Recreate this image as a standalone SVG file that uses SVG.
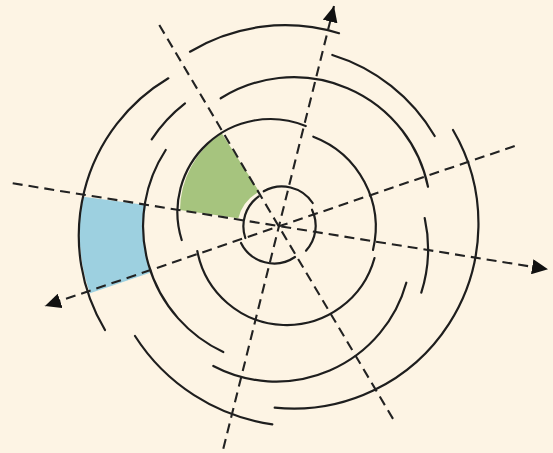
<svg xmlns="http://www.w3.org/2000/svg" width="553" height="453" viewBox="0 0 553 453">
<defs>
<style>
.arc{fill:none;stroke:#1e1e1e;stroke-width:2.2;stroke-linecap:round}
.axis{fill:none;stroke:#222;stroke-width:2.1;stroke-dasharray:10 6}
</style>
<marker id="ah" markerUnits="userSpaceOnUse" markerWidth="17" markerHeight="15" refX="16" refY="7.5" orient="auto">
<path d="M0,0 L16,7.5 L0,15 Z" fill="#111"/>
</marker>
</defs>
<rect width="553" height="453" fill="#fdf4e4"/>
<g id="sectors">
<path id="green" d="M180,210 A93 93 0 0 1 221.7,133.3 L259.3,191.7 A42 42 0 0 0 238.3,218.3 Z" fill="#a6c47e"/>
<path id="blue" d="M83.3,196.7 L146,205 A139 139 0 0 0 150,272.7 L90,293.3 A183 183 0 0 1 83.3,196.7 Z" fill="#9dd0e0"/>
</g>
<g id="rings">
<g id="ring-inner">
<path class="arc" d="M263.7,191.3 A37 37 0 0 1 312.7,203"/>
<path class="arc" d="M312,209.7 A37 37 0 0 1 306,250.7"/>
<path class="arc" d="M295,257 A37 37 0 0 1 241,243"/>
<path class="arc" d="M245.3,238 A37 37 0 0 1 258.7,196.3"/>
</g>
<g id="ring-2">
<path class="arc" d="M181.7,240 A93 93 0 0 1 305.7,126"/>
<path class="arc" d="M313.3,136.7 A97 97 0 0 1 373,250"/>
<path class="arc" d="M374.5,258 A91 91 0 0 1 197.3,251"/>
</g>
<g id="ring-3">
<path class="arc" d="M220.7,98.3 A137 137 0 0 1 428,186.7"/>
<path class="arc" d="M151.7,139.3 A150 150 0 0 1 185,103.3"/>
<path class="arc" d="M223.3,352 A139 139 0 0 1 165.7,150"/>
<path class="arc" d="M406.3,282.7 A135 135 0 0 1 213.3,366"/>
<path class="arc" d="M424.7,218 A145 145 0 0 1 421.3,292.7"/>
</g>
<g id="ring-outer">
<path class="arc" d="M190,51.7 A184 184 0 0 1 339,33.3"/>
<path class="arc" d="M332.3,55 A180 180 0 0 1 434.7,136"/>
<path class="arc" d="M453,130 A185 185 0 0 1 274.7,407.7"/>
<path class="arc" d="M105,330 A183 183 0 0 1 168.3,78.3"/>
<path class="arc" d="M272.3,424.3 A196 196 0 0 1 135,336"/>
</g>
</g>
<g id="connectors">
<line class="axis" x1="159.3" y1="25" x2="395.3" y2="422.7"/>
<line class="axis" x1="223.3" y1="448.7" x2="334" y2="6" marker-end="url(#ah)"/>
<line class="axis" x1="12.7" y1="183.3" x2="548" y2="269.3" marker-end="url(#ah)"/>
<line class="axis" x1="514.7" y1="146" x2="45" y2="306" marker-end="url(#ah)"/>
</g>
</svg>
